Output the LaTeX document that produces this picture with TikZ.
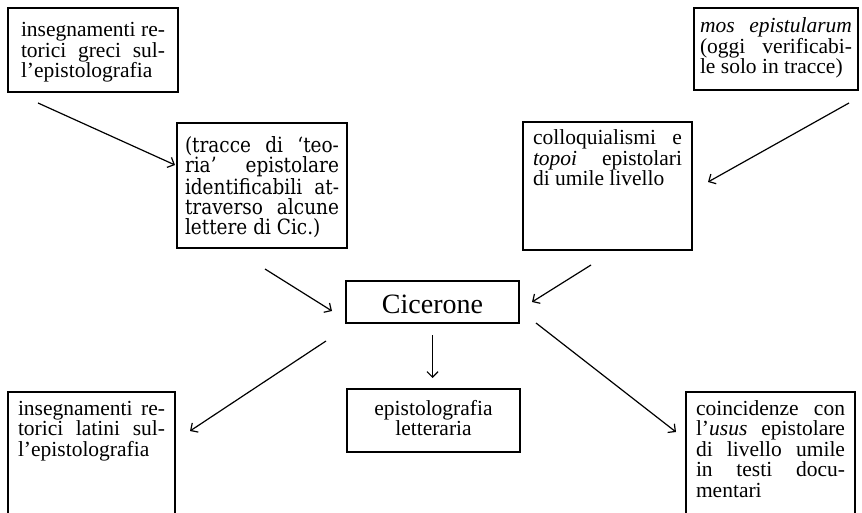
\documentclass[tikz,border=0pt]{standalone}
\usepackage{fontspec}
\setmainfont{Liberation Serif}
\newfontfamily\dejavuserif{DejaVu Serif}[FakeStretch=0.88, Ligatures=TeX]
\usetikzlibrary{arrows.meta}
\hyphenpenalty=10000
\tolerance=10000
\hbadness=10000

\tikzset{
  blocco/.style={draw, line width=1.2pt, outer sep=0pt, inner xsep=10pt, inner ysep=0pt,
    anchor=north west, align=justify, text height=23pt,
    font=\fontsize{21.5}{20.5}\selectfont},
  freccia/.style={line width=1.2pt, -{Straight Barb[length=5.5pt,width=11pt]}}
}

\begin{document}
\begin{tikzpicture}[x=1pt, y=-1pt]
  \useasboundingbox (0,0) rectangle (862,513);
  % fonti
  \node[blocco, text width=144pt, inner xsep=13pt, text height=29pt, text depth=55pt] (greci) at (8,8)
    {insegnamenti re-\linebreak torici greci sul-\linebreak l'epistolografia};
  \node[blocco, text width=154pt, inner xsep=8pt, text height=30pt, text depth=95pt,
    font=\dejavuserif\fontsize{21}{20}\selectfont] (tracce) at (177,123)
    {(tracce di `teo-\linebreak ria' epistolare\linebreak identificabili at-\linebreak traverso alcune\linebreak lettere di Cic.)};
  \node[blocco, text width=149pt, text depth=105pt] (colloq) at (523,122)
    {colloquialismi e\linebreak \textit{topoi} epistolari\linebreak di umile livello};
  \node[blocco, text width=152pt, inner xsep=6pt, text height=25pt, text depth=57pt] (mos) at (694,8)
    {\textit{mos epistularum}\linebreak (oggi verificabi-\linebreak le solo in tracce)};
  % centro
  \node[blocco, minimum width=173pt, inner xsep=0pt, align=center, text height=32pt, text depth=10pt,
    font=\fontsize{28}{30}\selectfont] (cicerone) at (346,281) {Cicerone};
  % esiti
  \node[blocco, text width=153pt, align=center, text height=26pt, text depth=37pt] (epist) at (347,389)
    {epistolografia\\ letteraria};
  \node[blocco, text width=147pt, text depth=100pt] (latini) at (8,392)
    {insegnamenti re-\linebreak torici latini sul-\linebreak l'epistolografia};
  \node[blocco, text width=149pt, text depth=100pt] (usus) at (686,392)
    {coincidenze con\linebreak l'\textit{usus} epistolare\linebreak di livello umile\linebreak in testi docu-\linebreak mentari};

  % frecce
  \coordinate (f1a) at (38,103);  \coordinate (f1b) at (175,165);
  \coordinate (f2a) at (849,103); \coordinate (f2b) at (708,182);
  \coordinate (f3a) at (265,269); \coordinate (f3b) at (332,311);
  \coordinate (f4a) at (591,265); \coordinate (f4b) at (532,302);
  \coordinate (f6a) at (326,341); \coordinate (f6b) at (190,431);
  \coordinate (f7a) at (536,323); \coordinate (f7b) at (676,432);
  \draw[freccia] (f1a) -- (f1b);
  \draw[freccia] (f2a) -- (f2b);
  \draw[freccia] (f3a) -- (f3b);
  \draw[freccia] (f4a) -- (f4b);
  \draw[freccia, shorten <=12pt, shorten >=11pt] (cicerone.south) -- (cicerone.south |- epist.north);
  \draw[freccia] (f6a) -- (f6b);
  \draw[freccia] (f7a) -- (f7b);
\end{tikzpicture}
\end{document}
